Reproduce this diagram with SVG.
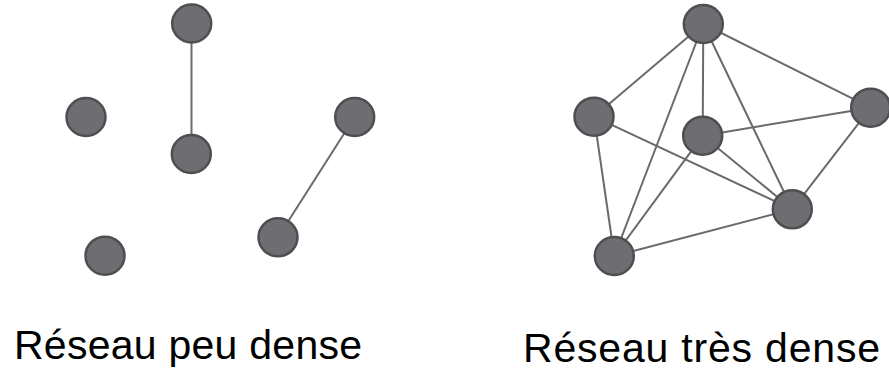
<svg xmlns="http://www.w3.org/2000/svg" width="889" height="371" viewBox="0 0 889 371">
<style>
.n{fill:#6d6d72;stroke:#4f4f52;stroke-width:2.5}
.e{stroke:#6a6a6c;stroke-width:2;fill:none}
.t{font-family:"Liberation Sans",Arial,sans-serif;font-size:41px;fill:#000}
</style>
<rect width="889" height="371" fill="#fff"/>
<g id="connectors">
<line class="e" x1="191.5" y1="23.5" x2="191.5" y2="154"/>
<line class="e" x1="354.7" y1="117" x2="278" y2="237.3"/>
<line class="e" x1="703.3" y1="24" x2="594" y2="116.7"/>
<line class="e" x1="703.3" y1="24" x2="614.3" y2="256"/>
<line class="e" x1="703.3" y1="24" x2="702.7" y2="135.7"/>
<line class="e" x1="703.3" y1="24" x2="792.3" y2="209.3"/>
<line class="e" x1="703.3" y1="24" x2="870.7" y2="107.7"/>
<line class="e" x1="594" y1="116.7" x2="614.3" y2="256"/>
<line class="e" x1="594" y1="116.7" x2="792.3" y2="209.3"/>
<line class="e" x1="702.7" y1="135.7" x2="870.7" y2="107.7"/>
<line class="e" x1="702.7" y1="135.7" x2="792.3" y2="209.3"/>
<line class="e" x1="702.7" y1="135.7" x2="614.3" y2="256"/>
<line class="e" x1="870.7" y1="107.7" x2="792.3" y2="209.3"/>
<line class="e" x1="792.3" y1="209.3" x2="614.3" y2="256"/>
</g>
<g id="sparse">
<g id="s1"><ellipse class="n" cx="191.7" cy="23.5" rx="19.5" ry="19"/></g>
<g id="s2"><ellipse class="n" cx="86" cy="117" rx="19.5" ry="19"/></g>
<g id="s3"><ellipse class="n" cx="191.3" cy="154" rx="19.5" ry="19"/></g>
<g id="s4"><ellipse class="n" cx="354.7" cy="117" rx="19.5" ry="19"/></g>
<g id="s5"><ellipse class="n" cx="278" cy="237.3" rx="19.5" ry="19"/></g>
<g id="s6"><ellipse class="n" cx="105" cy="255.7" rx="19.5" ry="19"/></g>
</g>
<g id="dense">
<g id="d1"><ellipse class="n" cx="703.3" cy="24" rx="19.5" ry="19"/></g>
<g id="d2"><ellipse class="n" cx="594" cy="116.7" rx="19.5" ry="19"/></g>
<g id="d3"><ellipse class="n" cx="702.7" cy="135.7" rx="19.5" ry="19"/></g>
<g id="d4"><ellipse class="n" cx="870.7" cy="107.7" rx="19.5" ry="19"/></g>
<g id="d5"><ellipse class="n" cx="792.3" cy="209.3" rx="19.5" ry="19"/></g>
<g id="d6"><ellipse class="n" cx="614.3" cy="256" rx="19.5" ry="19"/></g>
</g>
<g id="labels">
<text class="t" x="14" y="359" textLength="348" lengthAdjust="spacing">Réseau peu dense</text>
<text class="t" x="523" y="362" textLength="357" lengthAdjust="spacing">Réseau très dense</text>
</g>
</svg>
